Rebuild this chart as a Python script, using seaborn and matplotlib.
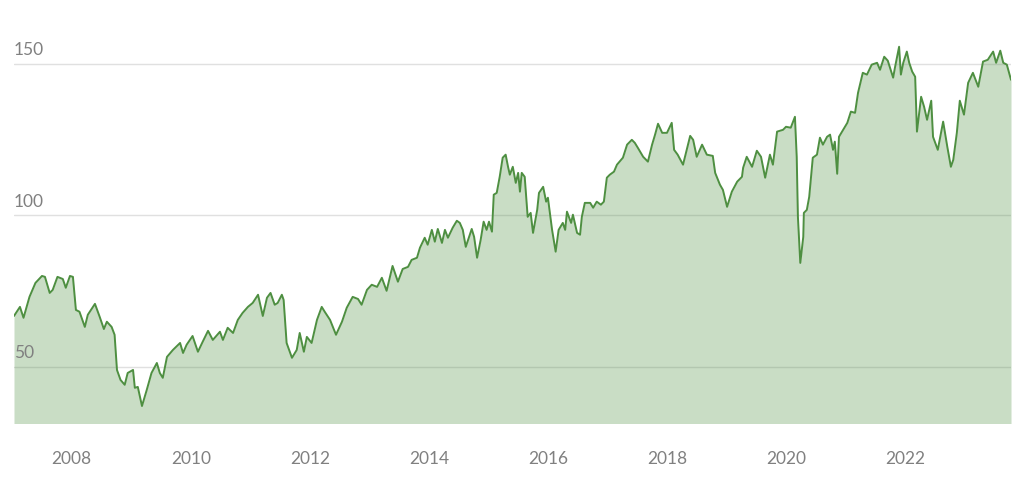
import matplotlib
matplotlib.use("Agg")
import matplotlib.pyplot as plt
import seaborn as sns
import pandas as pd

years = [
    2007.03, 2007.13, 2007.19, 2007.29, 2007.39, 2007.50, 2007.55, 2007.63, 2007.68, 2007.76,
    2007.85, 2007.90, 2007.97, 2008.02, 2008.07, 2008.13, 2008.22, 2008.27, 2008.39, 2008.47,
    2008.54, 2008.59, 2008.67, 2008.72, 2008.76, 2008.82, 2008.89, 2008.94, 2009.03, 2009.06,
    2009.11, 2009.18, 2009.26, 2009.34, 2009.43, 2009.48, 2009.53, 2009.60, 2009.70, 2009.82,
    2009.87, 2009.93, 2010.03, 2010.12, 2010.20, 2010.29, 2010.37, 2010.49, 2010.54, 2010.62,
    2010.71, 2010.79, 2010.87, 2010.96, 2011.04, 2011.13, 2011.21, 2011.28, 2011.34, 2011.41,
    2011.46, 2011.53, 2011.56, 2011.61, 2011.70, 2011.78, 2011.83, 2011.90, 2011.95, 2012.03,
    2012.12, 2012.20, 2012.25, 2012.34, 2012.44, 2012.54, 2012.62, 2012.72, 2012.81, 2012.87,
    2012.96, 2013.04, 2013.13, 2013.21, 2013.29, 2013.39, 2013.48, 2013.56, 2013.65, 2013.71,
    2013.80, 2013.85, 2013.93, 2013.98, 2014.05, 2014.10, 2014.15, 2014.22, 2014.27, 2014.32,
    2014.40, 2014.47, 2014.52, 2014.57, 2014.62, 2014.72, 2014.76, 2014.81, 2014.87, 2014.92,
    2014.97, 2015.01, 2015.06, 2015.09, 2015.14, 2015.19, 2015.24, 2015.29, 2015.33, 2015.36,
    2015.41, 2015.46, 2015.50, 2015.53, 2015.56, 2015.61, 2015.66, 2015.71, 2015.75, 2015.82,
    2015.85, 2015.92, 2015.97, 2016.00, 2016.07, 2016.13, 2016.18, 2016.25, 2016.29, 2016.32,
    2016.39, 2016.42, 2016.49, 2016.54, 2016.57, 2016.62, 2016.71, 2016.76, 2016.82, 2016.89,
    2016.94, 2016.99, 2017.04, 2017.11, 2017.16, 2017.26, 2017.33, 2017.41, 2017.46, 2017.51,
    2017.60, 2017.68, 2017.75, 2017.80, 2017.85, 2017.92, 2018.00, 2018.08, 2018.12, 2018.18,
    2018.27, 2018.34, 2018.39, 2018.44, 2018.50, 2018.59, 2018.67, 2018.77, 2018.81, 2018.89,
    2018.94, 2019.01, 2019.09, 2019.18, 2019.26, 2019.28, 2019.34, 2019.43, 2019.51, 2019.58,
    2019.65, 2019.73, 2019.78, 2019.85, 2019.95, 2020.00, 2020.08, 2020.15, 2020.18, 2020.20,
    2020.24, 2020.29, 2020.30, 2020.35, 2020.39, 2020.45, 2020.52, 2020.57, 2020.62, 2020.69,
    2020.74, 2020.79, 2020.82, 2020.86, 2020.89, 2020.96, 2021.03, 2021.09, 2021.16, 2021.21,
    2021.29, 2021.36, 2021.44, 2021.53, 2021.58, 2021.65, 2021.71, 2021.80, 2021.83, 2021.90,
    2021.93, 2021.97, 2022.03, 2022.07, 2022.12, 2022.17, 2022.20, 2022.27, 2022.32, 2022.37,
    2022.44, 2022.47, 2022.55, 2022.64, 2022.71, 2022.77, 2022.81, 2022.87, 2022.92, 2022.99,
    2023.06, 2023.14, 2023.23, 2023.31, 2023.39, 2023.48, 2023.53, 2023.60, 2023.65, 2023.71,
    2023.78,
]

values = [
    66.8, 69.8, 66.2, 73.1, 77.7, 80.0, 79.7, 74.4, 75.4, 79.7,
    79.0, 76.1, 80.0, 79.7, 68.8, 68.2, 63.2, 67.2, 70.8, 66.5,
    62.5, 64.9, 63.2, 60.6, 49.0, 45.7, 44.1, 48.0, 49.0, 43.1,
    43.4, 37.1, 42.4, 48.0, 51.3, 48.0, 46.4, 53.3, 55.6, 57.9,
    54.6, 57.3, 60.2, 55.0, 58.3, 61.9, 58.9, 61.6, 58.9, 62.9,
    61.2, 65.5, 67.8, 69.8, 71.1, 73.8, 66.8, 72.8, 74.4, 70.5,
    71.1, 73.8, 72.1, 57.9, 53.0, 55.6, 61.2, 55.0, 59.9, 57.9,
    65.5, 69.8, 68.2, 65.5, 60.6, 64.9, 69.5, 73.1, 72.4, 70.5,
    75.4, 77.1, 76.4, 79.4, 75.1, 83.3, 78.1, 82.3, 83.0, 85.3,
    86.0, 89.3, 92.6, 90.3, 95.2, 91.3, 95.5, 90.9, 95.2, 92.6,
    95.9, 98.2, 97.5, 95.2, 89.6, 95.5, 92.9, 86.0, 91.9, 97.9,
    95.2, 97.9, 94.6, 106.8, 107.4, 112.7, 119.0, 120.0, 116.0, 113.4,
    116.0, 110.7, 114.0, 107.8, 114.0, 112.7, 99.5, 100.8, 94.2, 101.8,
    107.4, 109.4, 104.5, 105.8, 95.2, 88.0, 95.2, 97.5, 95.2, 101.2,
    97.5, 100.2, 94.2, 93.6, 99.5, 104.1, 104.1, 102.5, 104.5, 103.5,
    104.5, 112.4, 113.4, 114.4, 116.7, 119.0, 123.3, 124.9, 123.9, 122.3,
    119.3, 117.7, 123.3, 126.6, 130.2, 127.2, 127.2, 130.5, 121.6, 120.0,
    116.7, 122.3, 126.2, 124.9, 119.3, 123.3, 120.0, 119.6, 114.0, 110.1,
    108.4, 102.8, 107.8, 111.1, 112.7, 115.7, 119.3, 116.0, 121.3, 119.3,
    112.4, 120.0, 116.7, 127.6, 128.2, 129.2, 128.9, 132.5, 119.3, 99.5,
    84.3, 92.9, 100.8, 101.8, 106.1, 119.0, 120.0, 125.6, 123.3, 125.9,
    126.6, 121.6, 124.3, 113.7, 125.9, 128.2, 130.5, 134.2, 133.8, 140.4,
    147.0, 146.4, 149.7, 150.3, 148.0, 152.3, 151.0, 145.4, 148.7, 155.6,
    146.4, 150.3, 154.0, 150.3, 147.4, 145.7, 127.6, 139.1, 135.8, 131.5,
    137.8, 125.9, 121.6, 130.9, 122.6, 116.0, 118.3, 127.2, 137.8, 133.2,
    143.7, 147.0, 142.4, 150.7, 151.3, 154.0, 150.3, 154.3, 150.3, 149.7,
    144.7,
]

x_ticks = [2008, 2010, 2012, 2014, 2016, 2018, 2020, 2022]
y_ticks = [50, 100, 150]

df = pd.DataFrame({"year": years, "value": values})

sns.set_style("white")
plt.rcParams["font.family"] = ["Lato", "DejaVu Sans"]

line_color = "#4e8f41"
text_color = "#808080"

fig = plt.figure(figsize=(10.24, 4.78), dpi=100)
ax = fig.add_axes([14 / 1024, 55 / 478, 997 / 1024, 389 / 478])

ymin, ymax = 31.5, 159.8
ax.fill_between(df["year"], ymin - 10, df["value"], color=line_color, alpha=0.3,
                linewidth=0, zorder=2)
sns.lineplot(data=df, x="year", y="value", ax=ax, color=line_color, linewidth=1.4,
             zorder=3)

ax.set_xlim(years[0], years[-1])
ax.set_ylim(ymin, ymax)

for yv in y_ticks:
    ax.axhline(yv, color="#e0e0e0", linewidth=1.0, zorder=1)
    ax.text(years[0], yv + 1.8, str(yv), color=text_color, fontsize=12.5,
            ha="left", va="bottom", zorder=4)

ax.set_yticks([])
ax.set_xticks(x_ticks)
ax.set_xticklabels([str(t) for t in x_ticks], color=text_color, fontsize=12.5)
ax.tick_params(axis="x", length=0, pad=20)
ax.set_xlabel("")
ax.set_ylabel("")
for s in ax.spines.values():
    s.set_visible(False)

fig.savefig("out.png", dpi=100)
